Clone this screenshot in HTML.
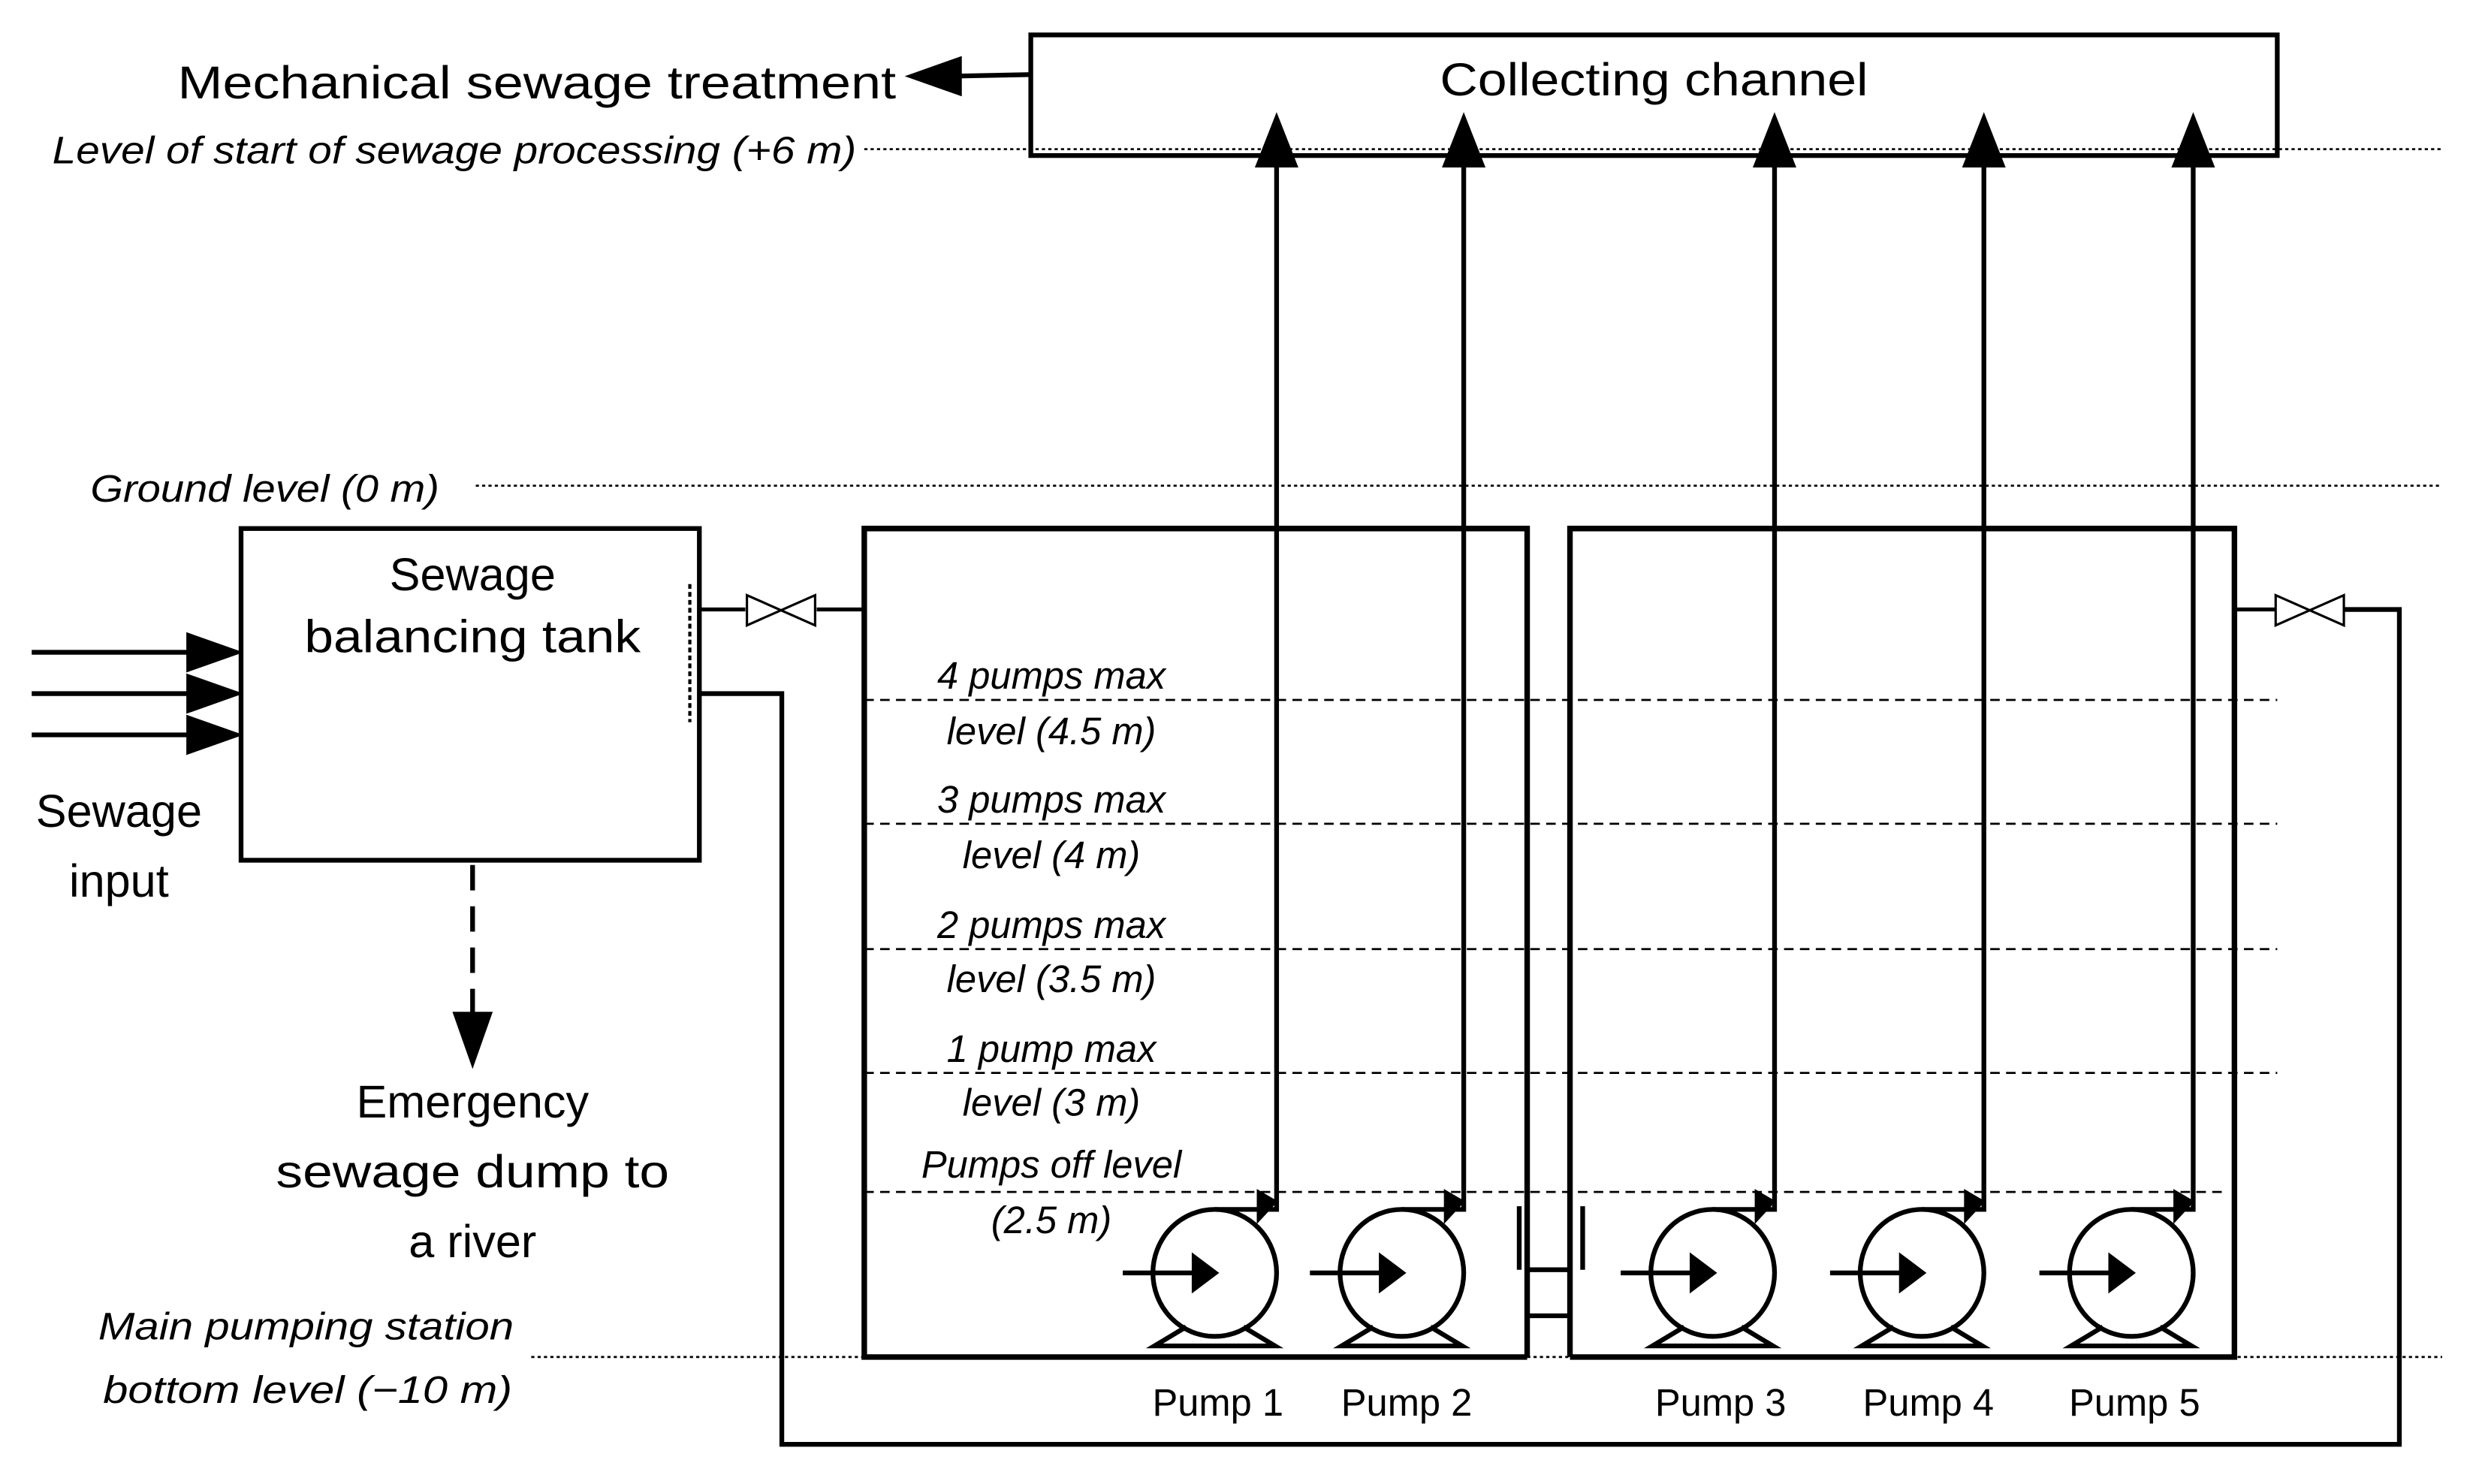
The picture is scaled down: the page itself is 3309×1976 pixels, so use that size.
<!DOCTYPE html>
<html><head><meta charset="utf-8"><style>
html,body{margin:0;padding:0;background:#fff;width:3309px;height:1976px;overflow:hidden}
svg{display:block}
text{font-family:"Liberation Sans",sans-serif;fill:#000}
.it{font-style:italic}
</style></head><body>
<svg width="3309" height="1976" viewBox="0 0 1567 935" preserveAspectRatio="none" xmlns="http://www.w3.org/2000/svg">
<g stroke="#000" fill="none">
<rect x="650" y="22" width="786" height="76" stroke-width="3"/>
<line x1="650" y1="47" x2="600" y2="48" stroke-width="3"/>
<polygon points="572,48 606,36 606,60" fill="#000"/>
<line x1="545" y1="94" x2="1540" y2="94" stroke-width="1.3" stroke-dasharray="2,2"/>
<line x1="300" y1="306" x2="1540" y2="306" stroke-width="1.3" stroke-dasharray="2,2"/>
<line x1="335" y1="855" x2="1540" y2="855" stroke-width="1.3" stroke-dasharray="2,2"/>
<rect x="152" y="333" width="289" height="209" stroke-width="3"/>
<line x1="435" y1="368" x2="435" y2="455" stroke-width="2" stroke-dasharray="3,2"/>
<line x1="20" y1="411" x2="120" y2="411" stroke-width="3"/>
<line x1="20" y1="437" x2="120" y2="437" stroke-width="3"/>
<line x1="20" y1="463" x2="120" y2="463" stroke-width="3"/>
<polygon points="152,411 118,399 118,423" fill="#000"/>
<polygon points="152,437 118,425 118,449" fill="#000"/>
<polygon points="152,463 118,451 118,475" fill="#000"/>
<line x1="298" y1="545" x2="298" y2="640" stroke-width="3" stroke-dasharray="16,10"/>
<polygon points="298,672 286,638 310,638" fill="#000"/>
<line x1="441" y1="384" x2="470" y2="384" stroke-width="2.5"/>
<polygon points="471,375 471,394 514,375 514,394" stroke-width="1.5"/>
<line x1="515" y1="384" x2="545" y2="384" stroke-width="2.5"/>
<line x1="1410" y1="384" x2="1435" y2="384" stroke-width="2.5"/>
<polygon points="1435,375 1435,394 1478,375 1478,394" stroke-width="1.5"/>
<polyline points="1478,384 1513,384 1513,910 493,910 493,437 441,437" stroke-width="3"/>
<polyline points="963,855 545,855 545,333 963,333 963,855" stroke-width="3.5"/>
<polyline points="990,855 1409,855 1409,333 990,333 990,855" stroke-width="3.5"/>
<line x1="958" y1="760" x2="958" y2="800" stroke-width="3"/>
<line x1="998" y1="760" x2="998" y2="800" stroke-width="3"/>
<line x1="963" y1="800" x2="990" y2="800" stroke-width="3"/>
<line x1="963" y1="829" x2="990" y2="829" stroke-width="3"/>
<g stroke-width="1.3" stroke-dasharray="6,4">
<line x1="545" y1="441" x2="1436" y2="441"/>
<line x1="545" y1="519" x2="1436" y2="519"/>
<line x1="545" y1="598" x2="1436" y2="598"/>
<line x1="545" y1="676" x2="1436" y2="676"/>
<line x1="545" y1="751" x2="1405" y2="751"/>
</g>
<g id="p1">
<ellipse cx="766" cy="802" rx="39" ry="40" stroke-width="3"/>
<polyline points="748,836 728,848 804,848 784,836" stroke-width="3"/>
<line x1="708" y1="802" x2="756" y2="802" stroke-width="3"/>
<polygon points="768,802 752,790 752,814" fill="#000"/>
<polyline points="766,762 805,762 805,105" stroke-width="3"/>
<polygon points="805,757 793,750 793,770" fill="#000"/>
<polygon points="805,72 792,105 818,105" fill="#000"/>
</g>
<use href="#p1" transform="translate(118,0)"/>
<use href="#p1" transform="translate(314,0)"/>
<use href="#p1" transform="translate(446,0)"/>
<use href="#p1" transform="translate(578,0)"/>
</g>
<text x="1043" y="60" font-size="29" text-anchor="middle" textLength="270" lengthAdjust="spacingAndGlyphs">Collecting channel</text>
<text x="112" y="62" font-size="29" textLength="453" lengthAdjust="spacingAndGlyphs">Mechanical sewage treatment</text>
<text class="it" x="33" y="103" font-size="24" textLength="507" lengthAdjust="spacingAndGlyphs">Level of start of sewage processing  (+6 m)</text>
<text class="it" x="57" y="316" font-size="24" textLength="220" lengthAdjust="spacingAndGlyphs">Ground level (0 m)</text>
<text x="298" y="372" font-size="29" text-anchor="middle">Sewage</text>
<text x="298" y="411" font-size="29" text-anchor="middle" textLength="212" lengthAdjust="spacingAndGlyphs">balancing tank</text>
<text x="75" y="521" font-size="29" text-anchor="middle">Sewage</text>
<text x="75" y="565" font-size="29" text-anchor="middle">input</text>
<text x="298" y="704" font-size="29" text-anchor="middle">Emergency</text>
<text x="298" y="748" font-size="29" text-anchor="middle" textLength="248" lengthAdjust="spacingAndGlyphs">sewage dump to</text>
<text x="298" y="792" font-size="29" text-anchor="middle">a river</text>
<g font-size="24" text-anchor="middle">
<text class="it" x="663" y="434">4 pumps max</text>
<text class="it" x="663" y="469">level (4.5 m)</text>
<text class="it" x="663" y="512">3 pumps max</text>
<text class="it" x="663" y="547">level (4 m)</text>
<text class="it" x="663" y="591">2 pumps max</text>
<text class="it" x="663" y="625">level (3.5 m)</text>
<text class="it" x="663" y="669">1 pump max</text>
<text class="it" x="663" y="703">level (3 m)</text>
<text class="it" x="663" y="742">Pumps off level</text>
<text class="it" x="663" y="777">(2.5 m)</text>
</g>
<text class="it" x="62" y="844" font-size="24" textLength="262" lengthAdjust="spacingAndGlyphs">Main pumping station</text>
<text class="it" x="65" y="884" font-size="24" textLength="258" lengthAdjust="spacingAndGlyphs">bottom level (−10 m)</text>
<g font-size="24" text-anchor="middle">
<text x="768" y="892">Pump 1</text>
<text x="887" y="892">Pump 2</text>
<text x="1085" y="892">Pump 3</text>
<text x="1216" y="892">Pump 4</text>
<text x="1346" y="892">Pump 5</text>
</g>
</svg>
</body></html>
